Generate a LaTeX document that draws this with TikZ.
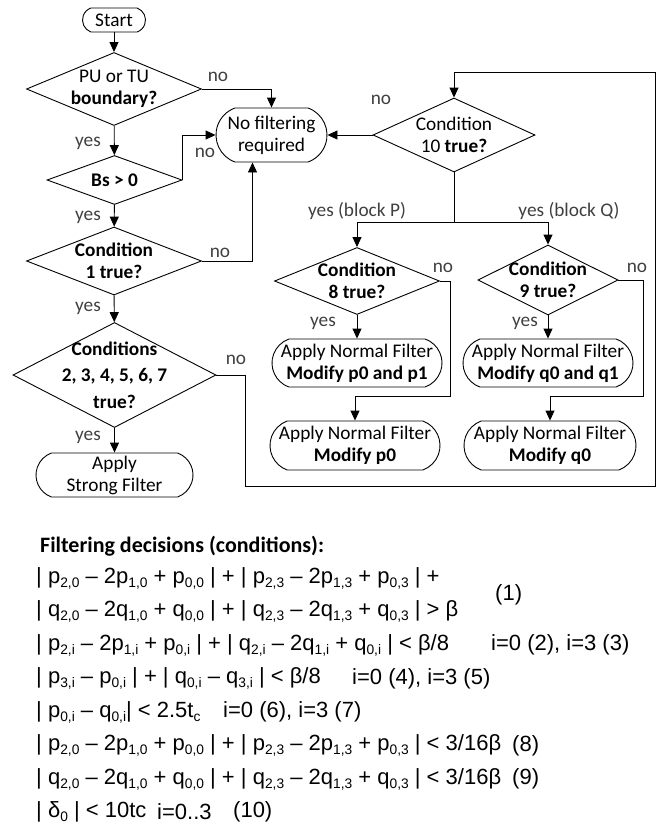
\documentclass[tikz,border=0pt]{standalone}
\usepackage{fontspec}
\setmainfont{Carlito}
\newfontfamily\fmlfont{Liberation Sans}
\usetikzlibrary{shapes.geometric,shapes.misc,arrows.meta}
% flowchart text and formula text sizes
\newcommand\fsz{\fontsize{19.3}{22}\selectfont}
\newcommand\hsz{\fontsize{22}{26}\selectfont}
\newcommand\msz{\fontsize{22}{24}\selectfont}
% subscript in formulas
\newcommand\ssb[1]{\raisebox{-4pt}{\fontsize{13.8}{14}\selectfont #1}}
\tikzset{
  base/.style={draw, line width=0.9pt, inner sep=0pt},
  dia/.style={base, diamond},
  box/.style={base, rounded rectangle, rounded rectangle arc length=140},
  txt/.style={align=center, font=\fsz, inner sep=0pt},
  arr/.style={line width=0.9pt, -{Triangle[length=10pt,width=9pt]}},
  ln/.style={line width=0.9pt},
  lbl/.style={font=\fsz, text=black!75, inner sep=0pt},
  fml/.style={font=\fmlfont\msz, anchor=west, inner sep=0pt},
}
\begin{document}
\begin{tikzpicture}[x=1pt,y=-1pt]
\useasboundingbox (0,0) rectangle (660,838);

% left column
\node[box, minimum width=63, minimum height=24, label={[txt]center:Start}] (start) at (114,20) {};
\node[dia, minimum width=175, minimum height=73,
      label={[txt]center:PU or TU\\\textbf{boundary?}}] (d1) at (114,89) {};
\node[box, minimum width=111, minimum height=54,
      label={[txt]center:No filtering\\required}] (nf) at (271.5,135) {};
\node[dia, minimum width=135, minimum height=49,
      label={[txt]center:\textbf{Bs > 0}}] (d2) at (114.5,180) {};
\node[dia, minimum width=175, minimum height=68,
      label={[txt]center:\textbf{Condition}\\\textbf{1 true?}}] (d3) at (114,261) {};
\node[dia, minimum width=203, minimum height=105,
      label={[txt, font=\fontsize{19.3}{26.5}\selectfont]center:\textbf{Conditions}\\\textbf{2, 3, 4, 5, 6, 7}\\\textbf{true?}}] (d5) at (114.5,375) {};
\node[box, minimum width=157, minimum height=44,
      label={[txt]center:Apply\\Strong Filter}] (strong) at (114.5,475) {};

% right column
\node[dia, minimum width=162, minimum height=74,
      label={[txt]center:Condition\\10 \textbf{true?}}] (d10) at (454,135) {};
\node[dia, minimum width=165, minimum height=67,
      label={[txt]center:\textbf{Condition}\\\textbf{8 true?}}] (d8) at (357,281) {};
\node[dia, minimum width=140, minimum height=70,
      label={[txt]center:\textbf{Condition}\\\textbf{9 true?}}] (d9) at (548,280) {};
\node[box, minimum width=170, minimum height=48,
      label={[txt]center:Apply Normal Filter\\\textbf{Modify p0 and p1}}] (n1) at (357,363) {};
\node[box, minimum width=170, minimum height=48,
      label={[txt]center:Apply Normal Filter\\\textbf{Modify q0 and q1}}] (n3) at (548,363) {};
\node[box, minimum width=170, minimum height=49,
      label={[txt]center:Apply Normal Filter\\\textbf{Modify p0}}] (n2) at (355,445.5) {};
\node[box, minimum width=172, minimum height=49,
      label={[txt]center:Apply Normal Filter\\\textbf{Modify q0}}] (n4) at (550,445.5) {};

% connectors
\draw[arr] (start) -- (d1);
\draw[arr] (d1.east) -| (nf.north);
\draw[arr] (d1) -- (d2);
\draw[arr] (d2.east) |- (nf.west);
\draw[arr] (d2) -- (d3);
\draw[arr] (d3.east) -| ([xshift=-19pt]nf.south);
\draw[arr] (d3) -- (d5);
\draw[arr] (d5) -- (strong);
\coordinate (loopA) at (245,486);
\coordinate (loopB) at (655,72);
\draw[arr] (d5.east) -| (loopA) -| (loopB) -| (d10.north);
\draw[arr] (d10.west) -- (nf.east);
\coordinate (split) at (454,222);
\draw[ln] (d10.south) -- (split);
\draw[arr] (split) -| (d8.north);
\draw[arr] (split) -| (d9.north);
\draw[arr] (d8) -- (n1);
\draw[arr] (d9) -- (n3);
\coordinate (p8) at (450,396);
\coordinate (p9) at (643,396);
\draw[arr] (d8.east) -| (p8) -| (n2.north);
\draw[arr] (d9.east) -| (p9) -| (n4.north);

% branch labels
\node[lbl] (l1) at (218,77) {no};
\node[lbl] (l2) at (88,143) {yes};
\node[lbl] (l3) at (205,153) {no};
\node[lbl] (l4) at (88,217) {yes};
\node[lbl] (l5) at (220,253) {no};
\node[lbl] (l6) at (88,308) {yes};
\node[lbl] (l7) at (236,360) {no};
\node[lbl] (l8) at (88,437) {yes};
\node[lbl] (l9) at (381,100) {no};
\node[lbl] (l10) at (357,211) {yes (block P)};
\node[lbl] (l11) at (569,211) {yes (block Q)};
\node[lbl] (l12) at (443,268) {no};
\node[lbl] (l13) at (637,268) {no};
\node[lbl] (l14) at (323,323) {yes};
\node[lbl] (l15) at (525,323) {yes};

% filtering conditions
\node[font=\hsz\bfseries, anchor=west, inner sep=0pt] (hd) at (40,546) {Filtering decisions (conditions):};
\node[fml] (c1) at (36,578) {| p\ssb{2,0} – 2p\ssb{1,0} + p\ssb{0,0} | + | p\ssb{2,3} – 2p\ssb{1,3} + p\ssb{0,3} | +};
\node[fml] (c1n) at (495,595) {(1)};
\node[fml] (c2) at (36,611.5) {| q\ssb{2,0} – 2q\ssb{1,0} + q\ssb{0,0} | + | q\ssb{2,3} – 2q\ssb{1,3} + q\ssb{0,3} | > β};
\node[fml] (c3) at (36,645) {| p\ssb{2,i} – 2p\ssb{1,i} + p\ssb{0,i} | + | q\ssb{2,i} – 2q\ssb{1,i} + q\ssb{0,i} | < β/8};
\node[fml] (c3n) at (491,645) {i=0 (2), i=3 (3)};
\node[fml] (c4) at (36,678.5) {| p\ssb{3,i} – p\ssb{0,i} | + | q\ssb{0,i} – q\ssb{3,i} | < β/8};
\node[fml] (c4n) at (352,678.5) {i=0 (4), i=3 (5)};
\node[fml] (c5) at (36,712) {| p\ssb{0,i} – q\ssb{0,i}| < 2.5t\ssb{c}};
\node[fml] (c5n) at (223,712) {i=0 (6), i=3 (7)};
\node[fml] (c6) at (36,745.5) {| p\ssb{2,0} – 2p\ssb{1,0} + p\ssb{0,0} | + | p\ssb{2,3} – 2p\ssb{1,3} + p\ssb{0,3} | < 3/16β};
\node[fml] (c6n) at (512,745.5) {(8)};
\node[fml] (c7) at (36,779) {| q\ssb{2,0} – 2q\ssb{1,0} + q\ssb{0,0} | + | q\ssb{2,3} – 2q\ssb{1,3} + q\ssb{0,3} | < 3/16β};
\node[fml] (c7n) at (512,779) {(9)};
\node[fml] (c8) at (36,812) {| δ\ssb{0} | < 10tc};
\node[fml] (c8i) at (157,812) {i=0..3};
\node[fml] (c8n) at (233,812) {(10)};
\end{tikzpicture}
\end{document}
